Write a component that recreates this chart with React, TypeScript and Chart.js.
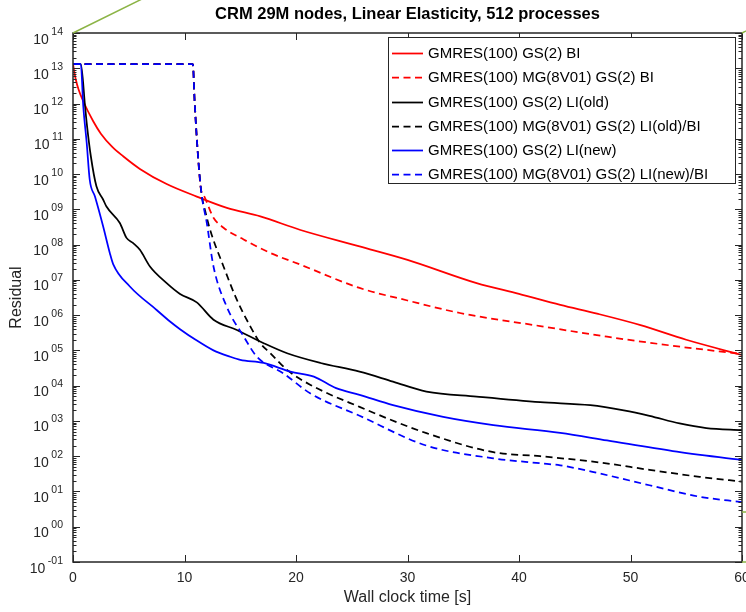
import React, { useEffect, useRef } from 'react';
import { Chart, registerables } from 'chart.js';

Chart.register(...registerables);

// ---------- text ----------
const TITLE = 'CRM 29M nodes, Linear Elasticity, 512 processes';
const X_LABEL = 'Wall clock time [s]';
const Y_LABEL = 'Residual';

// ---------- axes ----------
const X_MIN = 0;
const X_MAX = 60;
const X_STEP = 10;
const X_TICKS = [0, 10, 20, 30, 40, 50, 60];
const Y_MIN = 0.1;
const Y_MAX = 1e14;
const Y_EXPONENTS = [-1, 0, 1, 2, 3, 4, 5, 6, 7, 8, 9, 10, 11, 12, 13, 14];

// ---------- series ----------
const SERIES_LABELS = [
  'GMRES(100) GS(2) BI',
  'GMRES(100) MG(8V01) GS(2) BI',
  'GMRES(100) GS(2) LI(old)',
  'GMRES(100) MG(8V01) GS(2) LI(old)/BI',
  'GMRES(100) GS(2) LI(new)',
  'GMRES(100) MG(8V01) GS(2) LI(new)/BI',
];

const T_GS_BI = [0, 0.25, 0.5, 0.9, 1.8, 2.5, 3.5, 4.5, 6, 8.4, 11.1, 13.8, 16.8, 20.4, 25.7, 30, 36.2, 40, 43.7, 47, 50.9, 55, 60];
const R_GS_BI = [1.3e13, 4.8e12, 2.5e12, 1.2e12, 3.2e11, 1.4e11, 6.0e10, 3.2e10, 1.4e10, 5.2e9, 2.3e9, 1.1e9, 6.3e8, 2.6e8, 8.9e7, 3.7e7, 8.1e6, 4.0e6, 1.95e6, 1.1e6, 5.2e5, 2.0e5, 7.4e4];

const T_MG_BI = [0, 10.75, 10.9, 11.17, 11.48, 11.7, 12.6, 13.5, 15.3, 17.7, 20.4, 25.7, 30, 34.7, 41.9, 47.9, 53.8, 60];
const R_MG_BI = [1.3e13, 1.3e13, 1.3e12, 5.0e10, 3.6e9, 2.6e9, 5.8e8, 3.0e8, 1.4e8, 5.8e7, 2.7e7, 5.9e6, 2.6e6, 1.15e6, 4.9e5, 2.45e5, 1.35e5, 7.9e4];

const T_GS_LI_OLD = [0, 0.7, 1.08, 1.23, 1.6, 2.1, 2.7, 3.0, 4.2, 4.8, 5.4, 6.0, 6.9, 8.4, 9.6, 11.1, 12.6, 14.7, 17.1, 19.2, 22.2, 25.7, 28.7, 31.7, 36.2, 41.9, 46.4, 49.4, 51.7, 54.4, 56.8, 60];
const R_GS_LI_OLD = [1.3e13, 1.3e13, 8.5e11, 2.8e11, 3.2e10, 4.5e9, 1.9e9, 1.2e9, 4.1e8, 1.55e8, 1.1e8, 7.1e7, 2.4e7, 8.1e6, 4.0e6, 2.3e6, 7.4e5, 3.8e5, 1.6e5, 8.3e4, 4.4e4, 2.5e4, 1.3e4, 6.8e3, 4.9e3, 3.4e3, 2.8e3, 2.0e3, 1.4e3, 850, 630, 550];

const T_MG_LI_OLD = [0, 10.75, 10.9, 11.17, 11.5, 11.9, 12.3, 13.5, 14.7, 15.9, 16.8, 17.7, 19.2, 21.3, 25.7, 31.7, 37.7, 41.9, 47.3, 51.7, 56.2, 60];
const R_MG_LI_OLD = [1.3e13, 1.3e13, 1.3e12, 5.0e10, 3.2e9, 7.9e8, 2.6e8, 2.4e7, 2.7e6, 4.8e5, 1.6e5, 8.3e4, 2.8e4, 1.05e4, 2.5e3, 450, 130, 100, 66, 41, 26, 19];

const T_GS_LI_NEW = [0, 0.7, 0.92, 1.23, 1.5, 1.97, 2.7, 3.3, 3.6, 5.1, 7.5, 8.7, 9.6, 11.0, 12.6, 14.1, 15.0, 17.1, 19.5, 21.6, 23.6, 25.7, 28.7, 33.2, 37.7, 43.7, 47.9, 53.8, 60];
const R_GS_LI_NEW = [1.3e13, 1.3e13, 8.5e11, 7.6e10, 6.9e9, 2.3e9, 3.3e8, 5.8e7, 2.8e7, 6.5e6, 1.4e6, 6.6e5, 4.0e5, 2.0e5, 1.0e5, 6.6e4, 5.4e4, 4.4e4, 2.5e4, 1.8e4, 8.5e3, 5.5e3, 2.8e3, 1.3e3, 760, 460, 280, 140, 78];

const T_MG_LI_NEW = [0, 10.75, 10.9, 11.17, 11.5, 12.0, 12.6, 13.8, 15.3, 16.5, 18.9, 21.3, 25.7, 31.7, 37.7, 41.9, 43.7, 47.3, 51.7, 56.2, 60];
const R_MG_LI_NEW = [1.3e13, 1.3e13, 1.3e12, 5.0e10, 3.2e9, 4.1e8, 2.4e7, 1.7e6, 2.5e5, 6.6e4, 2.2e4, 6.0e3, 1.4e3, 200, 87, 63, 55, 32, 15, 7.1, 5.0];

// ---------- style ----------
const FONT = '"Liberation Sans", Arial, Helvetica, sans-serif';
const AXIS_COLOR = '#262626';
const GREEN = 'rgb(140,180,70)';
const RED = '#ff0000';
const BLACK = '#000000';
const BLUE = '#0000ff';
const DASH = [7, 4.5];
const LINE_W = 1.75;

const toPoints = (ts: number[], vs: number[]) => ts.map((t, i) => ({ x: t, y: vs[i] }));

const pad2 = (e: number) => (e < 0 ? '-' : '') + String(Math.abs(e)).padStart(2, '0');

const matlabAxes = {
  id: 'matlabAxes',
  afterDatasetsDraw(chart: any) {
    const { ctx, chartArea: a, scales } = chart;
    const xs = scales.x;
    const ys = scales.y;
    ctx.save();
    ctx.strokeStyle = AXIS_COLOR;
    ctx.lineWidth = 1;
    ctx.beginPath();
    for (const t of X_TICKS) {
      const px = Math.round(xs.getPixelForValue(t)) + 0.5;
      ctx.moveTo(px, a.bottom);
      ctx.lineTo(px, a.bottom - 7);
      ctx.moveTo(px, a.top);
      ctx.lineTo(px, a.top + 7);
    }
    for (const e of Y_EXPONENTS) {
      for (let k = 1; k <= 9; k++) {
        const v = k * Math.pow(10, e);
        if (v > Y_MAX * 1.0001) break;
        const py = Math.round(ys.getPixelForValue(v)) + 0.5;
        const len = k === 1 ? 7 : 3.5;
        ctx.moveTo(a.left, py);
        ctx.lineTo(a.left + len, py);
        ctx.moveTo(a.right, py);
        ctx.lineTo(a.right - len, py);
      }
    }
    ctx.stroke();
    ctx.lineWidth = 1.5;
    ctx.strokeRect(a.left, a.top, a.right - a.left, a.bottom - a.top);

    // y tick labels 10^e
    ctx.fillStyle = AXIS_COLOR;
    ctx.textBaseline = 'alphabetic';
    ctx.textAlign = 'right';
    for (const e of Y_EXPONENTS) {
      const py = ys.getPixelForValue(Math.pow(10, e));
      const exp = pad2(e);
      ctx.font = `10.5px ${FONT}`;
      const ew = ctx.measureText(exp).width;
      const ex = a.left - 10;
      ctx.fillText(exp, ex, py + 1.5);
      ctx.font = `14px ${FONT}`;
      ctx.fillText('10', ex - ew - 2.5, py + 10.5);
    }

    // stray green lines of the original figure
    ctx.strokeStyle = GREEN;
    ctx.lineWidth = 1.5;
    ctx.beginPath();
    ctx.moveTo(a.left, a.top);
    ctx.lineTo(a.left + 70, a.top - 34.5);
    ctx.moveTo(a.right, a.top);
    ctx.lineTo(a.right + 10, a.top - 5);
    ctx.moveTo(a.right, a.bottom - 50);
    ctx.lineTo(a.right + 10, a.bottom - 50);
    ctx.moveTo(a.right, a.bottom);
    ctx.lineTo(a.right + 10, a.bottom);
    ctx.stroke();
    ctx.restore();
  },
  afterDraw(chart: any) {
    const { ctx, chartArea: a } = chart;
    const ds = chart.data.datasets;
    const w = 347;
    const h = 146;
    const left = a.right - 7 - w;
    const top = a.top + 4;
    ctx.save();
    ctx.fillStyle = '#ffffff';
    ctx.fillRect(left, top, w, h);
    ctx.strokeStyle = '#262626';
    ctx.lineWidth = 1;
    ctx.strokeRect(left + 0.5, top + 0.5, w, h);
    ctx.font = `15px ${FONT}`;
    ctx.textBaseline = 'middle';
    ctx.textAlign = 'left';
    ds.forEach((d: any, i: number) => {
      const cy = Math.round(top + 16.3 + i * 24.1) + 0.5;
      ctx.strokeStyle = d.borderColor;
      ctx.lineWidth = LINE_W;
      ctx.setLineDash(d.borderDash || []);
      ctx.beginPath();
      ctx.moveTo(left + 4, cy);
      ctx.lineTo(left + 35, cy);
      ctx.stroke();
      ctx.setLineDash([]);
      ctx.fillStyle = '#000000';
      ctx.fillText(d.label, left + 40, cy + 0.5);
    });
    ctx.restore();
  },
};

export default function App() {
  const ref = useRef<HTMLCanvasElement | null>(null);

  useEffect(() => {
    if (!ref.current) return;
    const mk = (i: number, ts: number[], vs: number[], color: string, dashed: boolean) => ({
      label: SERIES_LABELS[i],
      data: toPoints(ts, vs),
      borderColor: color,
      backgroundColor: color,
      borderWidth: LINE_W,
      borderDash: dashed ? DASH : [],
      pointRadius: 0,
      fill: false,
      cubicInterpolationMode: 'monotone' as const,
      order: 6 - i,
    });
    const chart = new Chart(ref.current, {
      type: 'line',
      data: {
        datasets: [
          mk(0, T_GS_BI, R_GS_BI, RED, false),
          mk(1, T_MG_BI, R_MG_BI, RED, true),
          mk(2, T_GS_LI_OLD, R_GS_LI_OLD, BLACK, false),
          mk(3, T_MG_LI_OLD, R_MG_LI_OLD, BLACK, true),
          mk(4, T_GS_LI_NEW, R_GS_LI_NEW, BLUE, false),
          mk(5, T_MG_LI_NEW, R_MG_LI_NEW, BLUE, true),
        ],
      },
      options: {
        responsive: false,
        animation: false,
        devicePixelRatio: 1,
        layout: { padding: { left: 0, right: 4, top: 0, bottom: 0 } },
        plugins: {
          legend: { display: false },
          tooltip: { enabled: false },
          title: {
            display: true,
            text: TITLE,
            fullSize: false,
            color: '#000000',
            font: { family: FONT, size: 16.5, weight: 'bold' },
            padding: { top: 4.1, bottom: 9.1 },
          },
        },
        scales: {
          x: {
            type: 'linear',
            position: 'bottom',
            min: X_MIN,
            max: X_MAX,
            ticks: {
              stepSize: X_STEP,
              color: AXIS_COLOR,
              font: { family: FONT, size: 14 },
              padding: 8,
              maxRotation: 0,
              autoSkip: false,
            },
            grid: { display: false, drawTicks: false },
            border: { display: false },
            title: {
              display: true,
              text: X_LABEL,
              color: AXIS_COLOR,
              font: { family: FONT, size: 16 },
              padding: { top: 0, bottom: 4.4 },
            },
            afterFit: (s: any) => {
              s.height = 50;
              s.paddingLeft = 0;
              s.paddingRight = 0;
            },
          },
          y: {
            type: 'logarithmic',
            position: 'left',
            min: Y_MIN,
            max: Y_MAX,
            ticks: { display: false },
            grid: { display: false, drawTicks: false },
            border: { display: false },
            title: {
              display: true,
              text: Y_LABEL,
              color: AXIS_COLOR,
              font: { family: FONT, size: 16 },
              padding: { top: 7.4 },
            },
            afterFit: (s: any) => {
              s.width = 73;
              s.paddingTop = 0;
              s.paddingBottom = 0;
            },
          },
        },
      },
      plugins: [matlabAxes],
    });
    return () => chart.destroy();
  }, []);

  return (
    <div style={{ position: 'fixed', left: 0, top: 0, width: 746, height: 612, background: '#ffffff' }}>
      <canvas ref={ref} width={746} height={612} style={{ display: 'block' }} />
    </div>
  );
}
